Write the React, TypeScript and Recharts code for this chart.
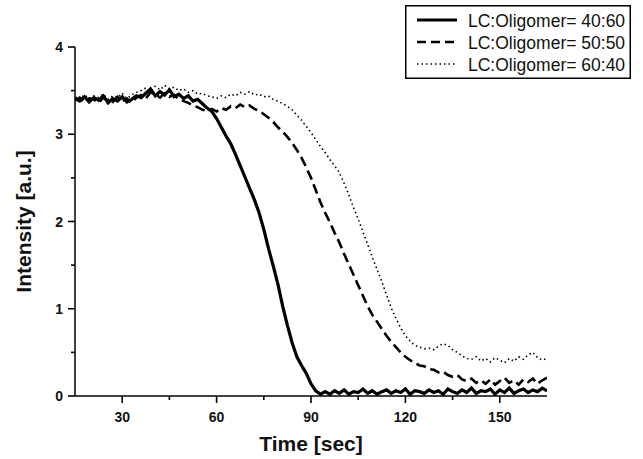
import React from 'react';
import { LineChart, Line, XAxis, YAxis } from 'recharts';

// time axis in seconds (sampled every 1.5 s)
const time = [
  15, 16.5, 18, 19.5, 21, 22.5, 24, 25.5, 27, 28.5,
  30, 31.5, 33, 34.5, 36, 37.5, 39, 40.5, 42, 43.5,
  45, 46.5, 48, 49.5, 51, 52.5, 54, 55.5, 57, 58.5,
  60, 61.5, 63, 64.5, 66, 67.5, 69, 70.5, 72, 73.5,
  75, 76.5, 78, 79.5, 81, 82.5, 84, 85.5, 87, 88.5,
  90, 91.5, 93, 94.5, 96, 97.5, 99, 100.5, 102, 103.5,
  105, 106.5, 108, 109.5, 111, 112.5, 114, 115.5, 117, 118.5,
  120, 121.5, 123, 124.5, 126, 127.5, 129, 130.5, 132, 133.5,
  135, 136.5, 138, 139.5, 141, 142.5, 144, 145.5, 147, 148.5,
  150, 151.5, 153, 154.5, 156, 157.5, 159, 160.5, 162, 163.5,
  165,
];

// LC:Oligomer= 40:60
const lc4060 = [
  3.41, 3.38, 3.43, 3.37, 3.42, 3.39, 3.44, 3.36, 3.41, 3.38,
  3.43, 3.37, 3.40, 3.44, 3.42, 3.47, 3.52, 3.44, 3.49, 3.45,
  3.51, 3.43, 3.46, 3.41, 3.44, 3.38, 3.40, 3.35, 3.30, 3.26,
  3.18, 3.08, 2.98, 2.89, 2.77, 2.64, 2.51, 2.38, 2.25, 2.10,
  1.91, 1.69, 1.49, 1.28, 1.03, 0.81, 0.61, 0.45, 0.35, 0.26,
  0.14, 0.06, 0.02, 0.05, 0.02, 0.06, 0.03, 0.07, 0.02, 0.05,
  0.04, 0.08, 0.03, 0.06, 0.02, 0.05, 0.07, 0.03, 0.06, 0.04,
  0.08, 0.02, 0.06, 0.05, 0.03, 0.07, 0.04, 0.06, 0.02, 0.08,
  0.05, 0.03, 0.07, 0.04, 0.09, 0.03, 0.06, 0.05, 0.08, 0.02,
  0.07, 0.04, 0.09, 0.03, 0.06, 0.08, 0.04, 0.07, 0.05, 0.09,
  0.06,
];

// LC:Oligomer= 50:50
const lc5050 = [
  3.39, 3.42, 3.37, 3.41, 3.40, 3.36, 3.42, 3.39, 3.37, 3.43,
  3.38, 3.41, 3.36, 3.42, 3.45, 3.41, 3.48, 3.46, 3.42, 3.47,
  3.43, 3.45, 3.40, 3.38, 3.36, 3.33, 3.31, 3.28, 3.27, 3.29,
  3.26, 3.30, 3.28, 3.32, 3.30, 3.34, 3.31, 3.33, 3.29, 3.27,
  3.23, 3.19, 3.14, 3.08, 3.03, 2.97, 2.90, 2.82, 2.73, 2.62,
  2.50, 2.36, 2.22, 2.10, 1.99, 1.87, 1.76, 1.63, 1.51, 1.39,
  1.27, 1.15, 1.03, 0.93, 0.85, 0.77, 0.69, 0.62, 0.56, 0.50,
  0.45, 0.41, 0.38, 0.35, 0.34, 0.31, 0.30, 0.27, 0.28, 0.24,
  0.22, 0.24, 0.19, 0.17, 0.20, 0.15, 0.18, 0.14, 0.19, 0.13,
  0.17, 0.21, 0.15, 0.18, 0.13, 0.19, 0.16, 0.20, 0.14, 0.18,
  0.21,
];

// LC:Oligomer= 60:40
const lc6040 = [
  3.43, 3.40, 3.45, 3.41, 3.44, 3.42, 3.46, 3.40, 3.44, 3.42,
  3.47, 3.41, 3.45, 3.48, 3.50, 3.53, 3.49, 3.55, 3.51, 3.56,
  3.52, 3.54, 3.50, 3.52, 3.48, 3.50, 3.46, 3.47, 3.44, 3.43,
  3.41, 3.44, 3.42, 3.46, 3.44, 3.48, 3.46, 3.49, 3.45, 3.46,
  3.43, 3.44, 3.40, 3.38, 3.35, 3.32, 3.28, 3.22, 3.16, 3.09,
  3.02, 2.94, 2.86, 2.79, 2.71, 2.64, 2.56, 2.44, 2.31, 2.16,
  2.03, 1.88, 1.74, 1.59, 1.45, 1.31, 1.16, 1.01, 0.89, 0.78,
  0.69, 0.63, 0.58, 0.56, 0.54, 0.55, 0.53, 0.57, 0.60, 0.58,
  0.53, 0.50, 0.46, 0.43, 0.42, 0.45, 0.40, 0.43, 0.39, 0.44,
  0.41, 0.38, 0.43, 0.40, 0.45, 0.42, 0.47, 0.50, 0.44, 0.41,
  0.43,
];

const seriesNames = ['LC:Oligomer= 40:60', 'LC:Oligomer= 50:50', 'LC:Oligomer= 60:40'];
const xMajor = [30, 60, 90, 120, 150];
const xTicks = [30, 45, 60, 75, 90, 105, 120, 135, 150];
const yMajor = [0, 1, 2, 3, 4];
const yTicks = [0, 0.5, 1, 1.5, 2, 2.5, 3, 3.5, 4];

const data = time.map((t, i) => ({ t, a: lc4060[i], b: lc5050[i], c: lc6040[i] }));

const W = 643;
const H = 459;
const LEFT = 75;
const TOP = 47;
const RIGHT = 96;
const XAXIS_H = 63;
const AXIS_Y = H - XAXIS_H;
const FONT = '"Liberation Sans", Arial, Helvetica, sans-serif';

const XTick = (props: any) => {
  const { payload } = props;
  const x = payload.coordinate ?? props.x;
  const major = xMajor.includes(payload.value);
  return (
    <g>
      <line x1={x} x2={x} y1={AXIS_Y} y2={AXIS_Y + (major ? 7 : 4)} stroke="#000" strokeWidth={1.6} />
      {major && (
        <text x={x} y={AXIS_Y + 21} textAnchor="middle" dominantBaseline="central"
          fontFamily={FONT} fontWeight="bold" fontSize={14} fill="#111">
          {payload.value}
        </text>
      )}
    </g>
  );
};

const YTick = (props: any) => {
  const { payload } = props;
  const y = payload.coordinate ?? props.y;
  const major = yMajor.includes(payload.value);
  return (
    <g>
      <line x1={LEFT} x2={LEFT - (major ? 7 : 4)} y1={y} y2={y} stroke="#000" strokeWidth={1.6} />
      {major && (
        <text x={LEFT - 12} y={y} textAnchor="end" dominantBaseline="central"
          fontFamily={FONT} fontWeight="bold" fontSize={14} fill="#111">
          {payload.value}
        </text>
      )}
    </g>
  );
};

const legendStyles = [
  { width: 3, dash: undefined },
  { width: 2.5, dash: '9 5' },
  { width: 1.5, dash: '1.5 3' },
];

const ChartLegend = () => (
  <svg width={226} height={74} style={{ position: 'absolute', left: 405, top: 5 }}>
    <rect x={0.75} y={0.75} width={224.5} height={72.5} fill="#fff" stroke="#000" strokeWidth={1.5} />
    {seriesNames.map((name, i) => {
      const y = 15 + i * 22;
      return (
        <g key={name}>
          <line x1={12} x2={52} y1={y} y2={y} stroke="#000" strokeWidth={legendStyles[i].width}
            strokeDasharray={legendStyles[i].dash} />
          <text x={63} y={y + 1} dominantBaseline="central" fontFamily={FONT} fontSize={17.5} fill="#111">
            {name}
          </text>
        </g>
      );
    })}
  </svg>
);

export default function App() {
  return (
    <div style={{ position: 'absolute', left: 0, top: 0, width: W, height: H, background: '#fff' }}>
      <LineChart width={W} height={H} data={data} margin={{ top: TOP, right: RIGHT, bottom: 0, left: 0 }}>
        <XAxis
          type="number"
          dataKey="t"
          domain={[15, 165]}
          ticks={xTicks}
          interval={0}
          allowDataOverflow
          height={XAXIS_H}
          tickLine={false}
          tickSize={0}
          tickMargin={0}
          tick={<XTick />}
          axisLine={{ stroke: '#000', strokeWidth: 1.5 }}
          label={{
            content: () => (
              <text x={(LEFT + W - RIGHT) / 2} y={AXIS_Y + 47} textAnchor="middle" dominantBaseline="central"
                fontFamily={FONT} fontWeight="bold" fontSize={21} fill="#111">
                Time [sec]
              </text>
            ),
          }}
        />
        <YAxis
          type="number"
          domain={[0, 4]}
          ticks={yTicks}
          interval={0}
          allowDataOverflow
          width={LEFT}
          tickLine={false}
          tickSize={0}
          tickMargin={0}
          tick={<YTick />}
          axisLine={{ stroke: '#000', strokeWidth: 1.5 }}
          label={{
            content: () => (
              <text x={23} y={(TOP + AXIS_Y) / 2} transform={`rotate(-90 23 ${(TOP + AXIS_Y) / 2})`}
                textAnchor="middle" dominantBaseline="central"
                fontFamily={FONT} fontWeight="bold" fontSize={21} fill="#111">
                Intensity [a.u.]
              </text>
            ),
          }}
        />
        <Line type="linear" dataKey="c" name={seriesNames[2]} stroke="#000" strokeWidth={1.6}
          strokeDasharray="1.5 3" dot={false} isAnimationActive={false} />
        <Line type="linear" dataKey="b" name={seriesNames[1]} stroke="#000" strokeWidth={2.6}
          strokeDasharray="10 5" dot={false} isAnimationActive={false} />
        <Line type="linear" dataKey="a" name={seriesNames[0]} stroke="#000" strokeWidth={3.2}
          dot={false} isAnimationActive={false} />
      </LineChart>
      <ChartLegend />
    </div>
  );
}
